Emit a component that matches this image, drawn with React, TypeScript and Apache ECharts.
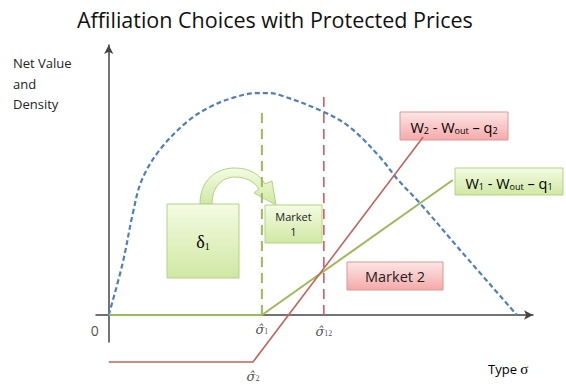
import React, { useEffect, useRef } from "react";
import * as echarts from "echarts";

// Density curve (blue dashed)
const densityX = [0, 3.3, 5.7, 7.8, 12.0, 18.4, 23.8, 29.2, 34.9, 37.3, 40.3, 50.7, 56.8, 63.9, 68.2, 73.3, 82.8, 96.2];
const densityY = [0, 19.3, 37.8, 50, 61.1, 71.5, 77.0, 80.4, 82.2, 82.2, 81.5, 75.2, 69.6, 58.5, 50, 41.5, 24.1, 0];

// Net value of market 1 (green) and market 2 (red)
const market1X = [0, 36.1, 81.1];
const market1Y = [0, 0, 50];
const market2X = [0, 34.0, 74.1];
const market2Y = [-17.4, -17.4, 65.9];

// Thresholds
const sigma1 = 36.1;
const sigma12 = 50.7;
const sigma2 = 34.0;
const sigma1Top = 76.7;
const sigma12Top = 80.7;

const ARROW_D =
  "M 200 204 C 200 181 215 168 235 168 C 250 168 260 175 265 184 L 272 181 L 276 205 L 254 193 L 259 189 C 254 181 245 177 235 177 C 222 177 212 187 212 204 Z";
echarts.graphic.registerShape("bentArrow", echarts.graphic.extendPath(ARROW_D, {}));

const zip = (xs: number[], ys: number[]) => xs.map((x, i) => [x, ys[i]]);

const greenGrad = () => ({
  type: "linear", x: 0, y: 0, x2: 0, y2: 1,
  colorStops: [
    { offset: 0, color: "#f5fbe3" },
    { offset: 1, color: "#cfe8a3" },
  ],
});
const pinkGrad = () => ({
  type: "linear", x: 0, y: 0, x2: 0, y2: 1,
  colorStops: [
    { offset: 0, color: "#fde6e6" },
    { offset: 1, color: "#f4a9a9" },
  ],
});

const SANS = "Open Sans";
const SERIF = "DejaVu Serif";
const rich = {
  m: { fontFamily: SANS, fontSize: 14.5, lineHeight: 18, verticalAlign: "bottom", color: "#222" },
  s: { fontFamily: SANS, fontSize: 9, lineHeight: 10, verticalAlign: "bottom", color: "#222" },
  d: { fontFamily: "Liberation Serif", fontSize: 18, lineHeight: 20, verticalAlign: "bottom", color: "#222" },
  ds: { fontFamily: "Liberation Serif", fontSize: 10, lineHeight: 11, verticalAlign: "bottom", color: "#222" },
};

const sigmaRich = {
  g: { fontFamily: SERIF, fontStyle: "italic", fontSize: 13, lineHeight: 16, verticalAlign: "bottom", color: "#222" },
  s: { fontFamily: "Liberation Serif", fontSize: 8, lineHeight: 9, verticalAlign: "bottom", color: "#222" },
  z: { fontFamily: SANS, fontSize: 14, lineHeight: 16, color: "#222" },
};

export default function App() {
  const ref = useRef<HTMLDivElement>(null);
  useEffect(() => {
    if (!ref.current) return;
    const chart = echarts.init(ref.current, undefined, { renderer: "svg" });
    const labelPts = [
      { value: [-3.3, -5.6], t: "{z|0}" },
      { value: [sigma1, -4.8], t: "{g|σ\u0302}{s|1}" },
      { value: [sigma12, -5.5], t: "{g|σ\u0302}{s|12}" },
      { value: [sigma2, -22.2], t: "{g|σ\u0302}{s|2}" },
    ];
    chart.setOption({
      animation: false,
      title: {
        text: "Affiliation Choices with Protected Prices",
        left: 72,
        top: 3,
        textStyle: { fontFamily: SANS, fontSize: 21.5, fontWeight: "normal", color: "#111" },
      },
      grid: { left: 96, right: 33, top: 45, bottom: 43, containLabel: false },
      xAxis: {
        type: "value",
        min: -3,
        max: 100,
        axisLine: { show: true, onZero: true, symbol: ["none", "arrow"], symbolSize: [7, 9], lineStyle: { color: "#444", width: 1.5 } },
        axisTick: { show: false },
        axisLabel: { show: false },
        splitLine: { show: false },
      },
      yAxis: {
        type: "value",
        min: -10,
        max: 100,
        axisLine: { show: true, onZero: true, symbol: ["none", "arrow"], symbolSize: [7, 9], lineStyle: { color: "#444", width: 1.5 } },
        axisTick: { show: false },
        axisLabel: { show: false },
        splitLine: { show: false },
      },
      series: [
        {
          type: "line",
          data: zip(densityX, densityY),
          smooth: 0.35,
          showSymbol: false,
          lineStyle: { color: "#4f7fbe", width: 2.2, type: [5, 3] },
          z: 3,
        },
        {
          type: "line",
          data: zip(market1X, market1Y),
          showSymbol: false,
          lineStyle: { color: "#9bbb59", width: 2 },
          z: 4,
        },
        {
          type: "line",
          data: zip(market2X, market2Y),
          showSymbol: false,
          clip: false,
          lineStyle: { color: "#c9605c", width: 1.6 },
          z: 4,
        },
        {
          type: "line",
          data: [[sigma1, 0], [sigma1, sigma1Top]],
          showSymbol: false,
          lineStyle: { color: "#9bbb59", width: 2, type: [10, 6] },
          z: 2,
        },
        {
          type: "line",
          data: [[sigma12, 0], [sigma12, sigma12Top]],
          showSymbol: false,
          lineStyle: { color: "#d65a63", width: 1.6, type: [10, 6] },
          z: 2,
        },
        {
          type: "scatter",
          clip: false,
          symbolSize: 0,
          data: labelPts.map((p) => ({ value: p.value, t: p.t })),
          label: {
            show: true,
            position: "inside",
            formatter: (p: any) => p.data.t,
            rich: sigmaRich,
          },
          z: 5,
        },
      ],
      graphic: [
        {
          type: "text",
          left: 13,
          top: 53,
          style: { text: "Net Value\nand\nDensity", fontFamily: SANS, fontSize: 13, lineHeight: 20.5, fill: "#222" },
        },
        {
          type: "text",
          left: 488,
          top: 361,
          style: {
            text: "{a|Type }{b|σ}",
            rich: {
              a: { fontFamily: SANS, fontSize: 13, color: "#222" },
              b: { fontFamily: "Liberation Serif", fontSize: 15, color: "#222" },
            },
          },
        },
        {
          type: "bentArrow",
          x: 0,
          y: 0,
          style: { fill: greenGrad(), stroke: "#b3d383", lineWidth: 1 },
        },
        // delta box
        {
          type: "group",
          children: [
            { type: "rect", shape: { x: 167, y: 204, width: 72, height: 74 }, style: { fill: greenGrad(), stroke: "#b3d383", lineWidth: 1 } },
            {
              type: "text", x: 203, y: 241,
              style: { text: "{d|δ}{ds|1}", rich, align: "center", verticalAlign: "middle" },
            },
          ],
        },
        // Market 1 box
        {
          type: "group",
          children: [
            { type: "rect", shape: { x: 265, y: 205, width: 57, height: 38 }, style: { fill: greenGrad(), stroke: "#b3d383", lineWidth: 1 } },
            {
              type: "text", x: 293.5, y: 224,
              style: { text: "Market\n1", fontFamily: SANS, fontSize: 11, lineHeight: 15, align: "center", verticalAlign: "middle", fill: "#222" },
            },
          ],
        },
        // Market 2 box
        {
          type: "group",
          children: [
            { type: "rect", shape: { x: 347, y: 262, width: 96, height: 28 }, style: { fill: pinkGrad(), stroke: "#dc9898", lineWidth: 1 } },
            {
              type: "text", x: 395, y: 276,
              style: { text: "Market 2", fontFamily: SANS, fontSize: 14.5, align: "center", verticalAlign: "middle", fill: "#222" },
            },
          ],
        },
        // W2 box
        {
          type: "group",
          children: [
            { type: "rect", shape: { x: 400, y: 112, width: 108, height: 28 }, style: { fill: pinkGrad(), stroke: "#dc9898", lineWidth: 1 } },
            {
              type: "text", x: 454, y: 126,
              style: { text: "{m|W}{s|2}{m| - W}{s|out}{m| – q}{s|2}", rich, align: "center", verticalAlign: "middle" },
            },
          ],
        },
        // W1 box
        {
          type: "group",
          children: [
            { type: "rect", shape: { x: 455, y: 168, width: 108, height: 27 }, style: { fill: greenGrad(), stroke: "#b3d383", lineWidth: 1 } },
            {
              type: "text", x: 509, y: 181.5,
              style: { text: "{m|W}{s|1}{m| - W}{s|out}{m| – q}{s|1}", rich, align: "center", verticalAlign: "middle" },
            },
          ],
        },
      ],
    });
    return () => chart.dispose();
  }, []);
  return <div ref={ref} style={{ position: "absolute", left: 0, top: 0, width: 566, height: 385, background: "#fff" }} />;
}
